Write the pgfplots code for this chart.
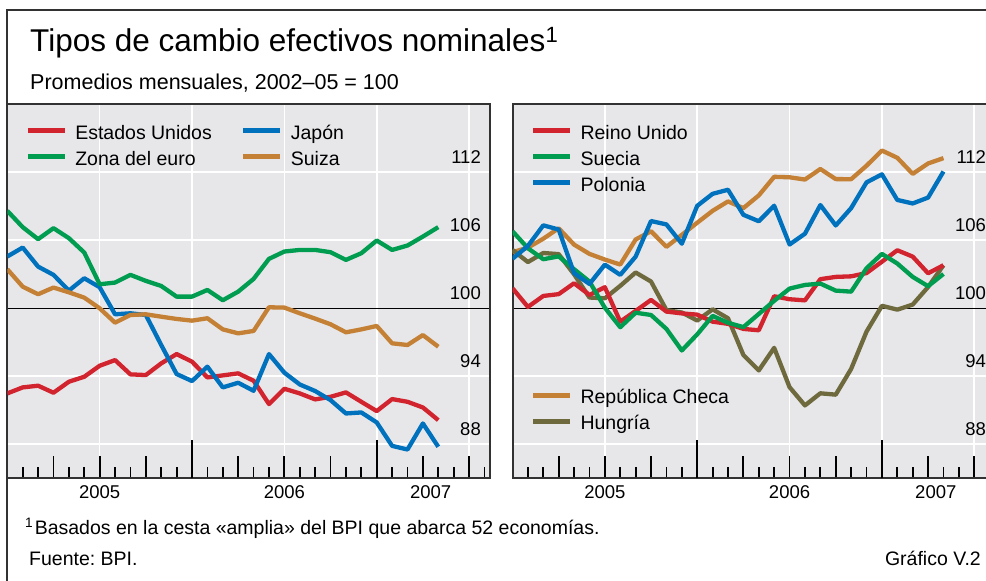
\documentclass[border=0pt]{standalone}
\usepackage{pgfplots}
\usepackage{pgfplotstable}
\pgfplotsset{compat=1.18}
\usepackage{fontspec}
\setmainfont{Liberation Sans}
\frenchspacing
\definecolor{cRed}{RGB}{210,36,46}
\definecolor{cGreen}{RGB}{0,156,80}
\definecolor{cBlue}{RGB}{0,113,188}
\definecolor{cOrange}{RGB}{196,128,52}
\definecolor{cOlive}{RGB}{110,106,62}
\definecolor{bgGray}{RGB}{231,231,234}
\definecolor{frameGray}{RGB}{50,50,50}
\newcommand{\legfont}{\fontsize{19.5}{22}\selectfont}
\newcommand{\tickfont}{\fontsize{18.5}{20}\selectfont}

\pgfplotstableread{
m us jp ez ch
0 92.49 104.57 108.60 103.45
1 93.02 105.36 107.16 101.91
2 93.17 103.68 106.10 101.24
3 92.55 102.95 107.07 101.83
4 93.52 101.56 106.19 101.41
5 93.96 102.65 104.92 100.94
6 94.93 101.86 102.12 100.00
7 95.43 99.47 102.27 98.73
8 94.17 99.56 102.95 99.41
9 94.11 99.41 102.42 99.47
10 95.14 96.76 101.97 99.26
11 95.96 94.20 101.03 99.06
12 95.29 93.58 101.03 98.91
13 93.90 94.85 101.62 99.12
14 94.08 93.02 100.71 98.14
15 94.26 93.43 101.47 97.79
16 93.61 92.72 102.59 98.00
17 91.55 95.96 104.36 100.09
18 92.90 94.32 105.01 100.06
19 92.49 93.28 105.15 99.56
20 91.96 92.70 105.15 99.09
21 92.19 91.90 104.95 98.59
22 92.58 90.72 104.27 97.88
23 91.75 90.81 104.86 98.14
24 90.93 89.93 105.98 98.44
25 91.99 87.86 105.15 96.91
26 91.75 87.54 105.54 96.76
27 91.25 89.84 106.33 97.64
28 90.13 87.78 107.16 96.61
}\leftdata

\pgfplotstableread{
m uk se pl cz hu
0 101.77 106.80 104.37 104.95 105.15
1 100.12 105.30 105.50 105.35 104.08
2 101.09 104.33 107.32 106.14 104.88
3 101.25 104.58 106.95 107.06 104.78
4 102.21 103.45 103.10 105.62 103.00
5 101.18 102.36 102.15 104.80 100.95
6 101.86 100.05 103.85 104.30 100.88
7 98.82 98.33 102.95 103.86 101.98
8 99.77 99.61 104.56 106.07 103.16
9 100.74 99.41 107.70 106.80 102.36
10 99.71 98.18 107.40 105.42 99.84
11 99.55 96.28 105.70 106.48 99.63
12 99.44 97.70 109.04 107.55 98.92
13 98.82 99.33 110.10 108.60 99.91
14 98.63 98.72 110.46 109.43 99.12
15 98.18 98.34 108.25 108.84 95.88
16 98.06 99.50 107.68 109.96 94.52
17 101.06 100.66 109.05 111.60 96.51
18 100.80 101.74 105.63 111.56 93.04
19 100.70 102.06 106.58 111.36 91.43
20 102.57 102.18 109.11 112.29 92.50
21 102.77 101.56 107.31 111.40 92.38
22 102.82 101.47 108.84 111.39 94.65
23 103.11 103.53 111.11 112.58 97.94
24 104.11 104.80 111.82 113.92 100.22
25 105.12 103.95 109.56 113.28 99.88
26 104.56 102.77 109.25 111.86 100.33
27 103.09 101.95 109.77 112.78 101.88
28 103.80 103.03 112.07 113.25 103.80
}\rightdata

\pgfplotsset{
  common/.style={
    scale only axis, width=482.7pt, height=374pt,
    xmin=0, xmax=31.36, ymin=85, ymax=118,
    anchor=south west,
    legend image code/.code={\draw[line width=5pt] (0pt,3.5pt) -- (37pt,3.5pt);},
    legend cell align=left,
  },
  legstyle/.style={
    legend style={draw=none, fill=none, inner sep=0pt, outer sep=0pt,
      font=\legfont, row sep=8pt, column sep=8pt,
      at={(0,1)}, anchor=north west, xshift=18pt, yshift=#1,
      nodes={inner sep=0pt, text height=14pt, text depth=4pt},
      /tikz/every even column/.append style={column sep=29pt}},
  },
  bgaxis/.style={common,
    axis background/.style={fill=bgGray},
    axis line style={draw=none},
    xtick={6,12,18,24,30}, ytick={88,94,106,112},
    xticklabels={}, yticklabels={},
    major tick length=0pt,
    tick style={draw=none},
    grid=major, major grid style={draw=white, line width=1.6pt},
    extra y ticks={100}, extra y tick labels={},
    extra y tick style={grid=major, major grid style={draw=black, line width=1.3pt}},
  },
  dataaxis/.style={common,
    axis line style={draw=frameGray, line width=2pt},
    /pgf/number format/assume math mode=true,
    tick label style={font=\tickfont},
    xtick={3,6,...,30},
    xticklabels={,2005,,,,2006,,,{\makebox[0pt]{\hspace{15.4pt}2007}},},
    xtick pos=left, xtick align=inside,
    minor xtick={1,...,31},
    major tick length=22pt, minor tick length=11pt,
    tick style={black, line width=1.8pt},
    extra x ticks={12,24}, extra x tick labels={},
    extra x tick style={major tick length=38pt},
    xticklabel style={anchor=base, inner sep=0pt, yshift=-20pt},
    ytick={88,94,100,106,112}, ytick style={draw=none},
    yticklabel pos=right,
    yticklabel style={anchor=base east, inner sep=0pt, xshift=-9pt, yshift=9pt},
    every axis plot/.append style={line width=4.3pt, line join=round},
  },
}

\begin{document}
\begin{tikzpicture}[x=1pt,y=1pt]
\useasboundingbox (0,0) rectangle (986,581);
\clip (0,0) rectangle (986,581);
% outer frame
\draw[frameGray, line width=1.7pt] (7.3,-5) -- (7.3,570.8) -- (995,570.8);
% texts
\node[anchor=base west, inner sep=0pt, font=\fontsize{31.5}{36}\selectfont] at (30,529.3) {Tipos de cambio efectivos nominales\textsuperscript{1}};
\node[anchor=base west, inner sep=0pt, font=\fontsize{21.5}{24}\selectfont] at (30,491) {Promedios mensuales, 2002--05 = 100};
\node[anchor=base west, inner sep=0pt, font=\fontsize{19.5}{22}\selectfont] at (25,46) {\textsuperscript{1}\hspace{1.5pt}Basados en la cesta «amplia» del BPI que abarca 52 economías.};
\node[anchor=base west, inner sep=0pt, font=\fontsize{19.5}{22}\selectfont] at (29,15) {Fuente: BPI.};
\node[anchor=base east, inner sep=0pt, font=\fontsize{19.5}{22}\selectfont] at (981,15) {Gráfico V.2};

% ---------- left panel ----------
\begin{axis}[bgaxis, at={(7.3pt,102.7pt)}]
\end{axis}
\begin{axis}[dataaxis, at={(7.3pt,102.7pt)}, legstyle=-21pt, legend columns=2]
\addplot[cRed] table[x=m,y=us] {\leftdata};
\addlegendentry{Estados Unidos}
\addplot[cBlue] table[x=m,y=jp] {\leftdata};
\addlegendentry{Japón}
\addplot[cGreen] table[x=m,y=ez] {\leftdata};
\addlegendentry{Zona del euro}
\addplot[cOrange] table[x=m,y=ch] {\leftdata};
\addlegendentry{Suiza}
\end{axis}

% ---------- right panel ----------
\begin{axis}[bgaxis, at={(512.5pt,102.7pt)}, legstyle=-285.3pt]
\addlegendimage{cOrange}
\addlegendentry{República Checa}
\addlegendimage{cOlive}
\addlegendentry{Hungría}
\end{axis}
\begin{axis}[dataaxis, at={(512.5pt,102.7pt)}, legstyle=-21pt]
\addplot[cOrange, forget plot] table[x=m,y=cz] {\rightdata};
\addplot[cOlive, forget plot] table[x=m,y=hu] {\rightdata};
\addplot[cRed] table[x=m,y=uk] {\rightdata};
\addlegendentry{Reino Unido}
\addplot[cGreen] table[x=m,y=se] {\rightdata};
\addlegendentry{Suecia}
\addplot[cBlue] table[x=m,y=pl] {\rightdata};
\addlegendentry{Polonia}
\end{axis}
\end{tikzpicture}
\end{document}
